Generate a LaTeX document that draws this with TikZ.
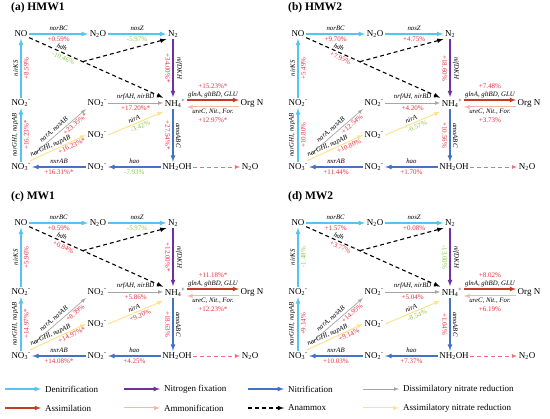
\documentclass[tikz,border=0pt]{standalone}
\usepackage{fontspec}
\setmainfont{Liberation Serif}
\usetikzlibrary{arrows}

\definecolor{cDenit}{RGB}{86,196,240}
\definecolor{cFix}{RGB}{112,48,160}
\definecolor{cNitri}{RGB}{68,114,196}
\definecolor{cDissim}{RGB}{166,166,166}
\definecolor{cAssim}{RGB}{196,60,36}
\definecolor{cAmmon}{RGB}{244,184,170}
\definecolor{cAssimNR}{RGB}{255,226,140}
\definecolor{cToN2O}{RGB}{240,110,120}
\definecolor{pcup}{RGB}{232,48,64}
\definecolor{pcdown}{RGB}{140,200,80}

% values of one panel, in the order of \pv{1} ... \pv{15}
\newcommand{\setvals}[1]{\foreach \pval [count=\idx] in {#1}
  {\global\expandafter\let\csname pv\idx\endcsname\pval}}
\def\pctsign#1#2\relax{\ifx+#1\textcolor{pcup}{#1#2}\else\textcolor{pcdown}{#1#2}\fi}
\newcommand{\pv}[1]{\expandafter\expandafter\expandafter\pctsign\csname pv#1\endcsname\relax}

\tikzset{
  sp/.style={font=\fontsize{9}{10}\selectfont, inner sep=1.5pt},
  enz/.style={font=\fontsize{6.8}{7}\selectfont\itshape, inner sep=2.4pt, sloped},
  pc/.style={font=\fontsize{7}{8}\selectfont, inner sep=2.4pt, sloped},
  ttl/.style={font=\fontsize{11.5}{12}\selectfont\bfseries, inner sep=0pt},
  lg/.style={font=\fontsize{9}{10}\selectfont, inner sep=2pt},
  denit/.style={-latex, draw=cDenit, line width=1.2pt},
  nfix/.style={-latex, draw=cFix, line width=1.2pt},
  nitri/.style={-latex, draw=cNitri, line width=1.2pt},
  dissim/.style={-latex, draw=cDissim, line width=0.7pt},
  assim/.style={-latex, draw=cAssim, line width=1.1pt},
  ammon/.style={-latex, draw=cAmmon, line width=1pt},
  assimnr/.style={-latex, draw=cAssimNR, line width=1pt},
  anammox/.style={-latex, draw=black, line width=1.1pt, dash pattern=on 4pt off 3pt},
  toN2O/.style={-latex, draw=cToN2O, line width=0.8pt, dash pattern=on 4pt off 3pt}
}

\newcommand{\network}[1]{%
  \node[ttl,anchor=west] (title) at (-10,-26) {#1};
  \node[sp] (NO)    at (0,0)     {NO};
  \node[sp] (N2O)   at (77,0)    {N\textsubscript{2}O};
  \node[sp] (N2)    at (152,0)   {N\textsubscript{2}};
  \node[sp] (nitL)  at (0,69)    {NO\textsubscript{2}\textsuperscript{-}};
  \node[sp] (nitU)  at (76,69)   {NO\textsubscript{2}\textsuperscript{-}};
  \node[sp] (NH4)   at (154,69)  {NH\textsubscript{4}\textsuperscript{+}};
  \node[sp] (orgN)  at (231,69)  {Org N};
  \node[sp] (nitM)  at (76,101)  {NO\textsubscript{2}\textsuperscript{-}};
  \node[sp] (NO3)   at (0,133)   {NO\textsubscript{3}\textsuperscript{-}};
  \node[sp] (nitB)  at (76,133)  {NO\textsubscript{2}\textsuperscript{-}};
  \node[sp] (NH2OH) at (156,133) {NH\textsubscript{2}OH};
  \node[sp] (N2Or)  at (229,133) {N\textsubscript{2}O};
  % denitrification
  \draw[denit] (NO) -- node[enz,above]{norBC} node[pc,below]{\pv{1}} (N2O);
  \draw[denit] (N2O) -- node[enz,above]{nosZ} node[pc,below]{\pv{2}} (N2);
  \draw[denit] (NO3) -- node[enz,above]{narGHI, napAB} node[pc,below]{\pv{6}} (nitL);
  \draw[denit] (nitL) -- node[enz,above]{nirKS} node[pc,below]{\pv{5}} (NO);
  % anammox
  \path (NO) -- (NH4) coordinate[pos=0.4] (mid);
  \draw[anammox] (NO) -- node[enz,above,pos=0.23,inner sep=1.8pt]{hdh} node[pc,below,pos=0.27,inner sep=1.8pt]{\pv{3}} (NH4);
  \draw[anammox] (mid) -- (N2.south west);
  % fixation and nitrification
  \draw[nfix] (N2) -- node[enz,above]{nifDKH} node[pc,below]{\pv{4}} (N2 |- NH4.north);
  \draw[nitri] (NH4.south -| N2) -- node[enz,above]{amoABC} node[pc,below]{\pv{13}} (N2 |- NH2OH.north);
  \draw[nitri] (NH2OH) -- node[enz,above]{hao} node[pc,below]{\pv{12}} (nitB);
  \draw[nitri] (nitB) -- node[enz,above]{nxrAB} node[pc,below]{\pv{9}} (NO3);
  % nitrate reduction
  \draw[dissim] ([shift={(2pt,8pt)}]NO3.north east) -- node[enz,above,pos=0.45,inner sep=2.2pt]{narA, nasAB} node[pc,below,pos=0.74,inner sep=1.5pt]{\pv{7}} ([yshift=-1pt]nitU.south west);
  \draw[dissim] (nitU) -- node[enz,above]{nrfAH, nirBD} node[pc,below]{\pv{10}} (NH4);
  \draw[assimnr] ([shift={(-2pt,1pt)}]NO3.north east) -- node[enz,above,pos=0.4,inner sep=1pt]{narGHI, napAB} node[pc,below,pos=0.72,inner sep=1.2pt]{\pv{8}} (nitM.west);
  \draw[assimnr] (nitM.east) -- node[enz,above,inner sep=1.5pt]{nirA} node[pc,below,pos=0.55,inner sep=1.5pt]{\pv{11}} ([yshift=-3pt]NH4.south west);
  % organic N
  \draw[assim] ([yshift=3pt]NH4.east) -- node[enz,above,inner sep=1.5pt]{glnA, gltBD, GLU} node[pc,above=8pt]{\pv{14}} ([yshift=3pt]orgN.west);
  \draw[ammon] ([yshift=-4pt]orgN.west) -- node[enz,below,inner sep=1.5pt]{ureC, Nit., For.} node[pc,below=8pt]{\pv{15}} ([yshift=-4pt]NH4.east);
  \draw[toN2O] (NH2OH) -- (N2Or);
}

\begin{document}
\begin{tikzpicture}[x=1pt,y=-1pt]
  \useasboundingbox (0,0) rectangle (550,419);

  \begin{scope}[shift={(21,34)}]
    \setvals{+0.59\%, -5.97\%, -10.46\%, +34.00\%*, +8.59\%, +16.23\%*, +23.35\%*, +16.23\%*,
      +16.31\%*, +17.20\%*, -3.42\%, -7.93\%, +27.54\%*, +15.23\%*, +12.97\%*}
    \network{(a) HMW1}
  \end{scope}
  \begin{scope}[shift={(298,34)}]
    \setvals{+9.70\%, +4.75\%, +7.95\%, +18.60\%, +5.49\%, +10.80\%, +12.54\%, +10.80\%,
      +11.44\%, +4.20\%, -6.57\%, +1.70\%, +10.56\%, +7.48\%, +3.73\%}
    \network{(b) HMW2}
  \end{scope}
  \begin{scope}[shift={(21,223)}]
    \setvals{+0.59\%, -5.97\%, +0.84\%, +12.00\%*, +5.96\%, +14.97\%*, +8.39\%, +14.97\%*,
      +14.08\%*, +5.86\%, +9.20\%, +4.25\%, +18.63\%, +11.18\%*, +12.23\%*}
    \network{(c) MW1}
  \end{scope}
  \begin{scope}[shift={(298,223)}]
    \setvals{+1.57\%, +0.08\%, +3.77\%, -13.00\%, -1.48\%, +9.14\%, +14.95\%, +9.14\%,
      +10.03\%, +5.04\%, -8.54\%, +7.37\%, +1.04\%, +8.02\%, +6.19\%}
    \network{(d) MW2}
  \end{scope}

  % legend
  \foreach \x/\y/\s/\t in {5/389/denit/Denitrification, 124/389/nfix/Nitrogen fixation,
      248/389/nitri/Nitrification, 363/389/dissim/Dissimilatory nitrate reduction,
      5/408/assim/Assimilation, 124/408/ammon/Ammonification,
      248/408/anammox/Anammox, 363/408/assimnr/Assimilatory nitrate reduction}
  {
    \coordinate (lgs) at (\x,\y);
    \node[lg,anchor=west] (lgt) at (\x+38,\y) {\t};
    \draw[\s] (lgs) -- ([xshift=-2pt]lgt.west);
  }
\end{tikzpicture}
\end{document}
